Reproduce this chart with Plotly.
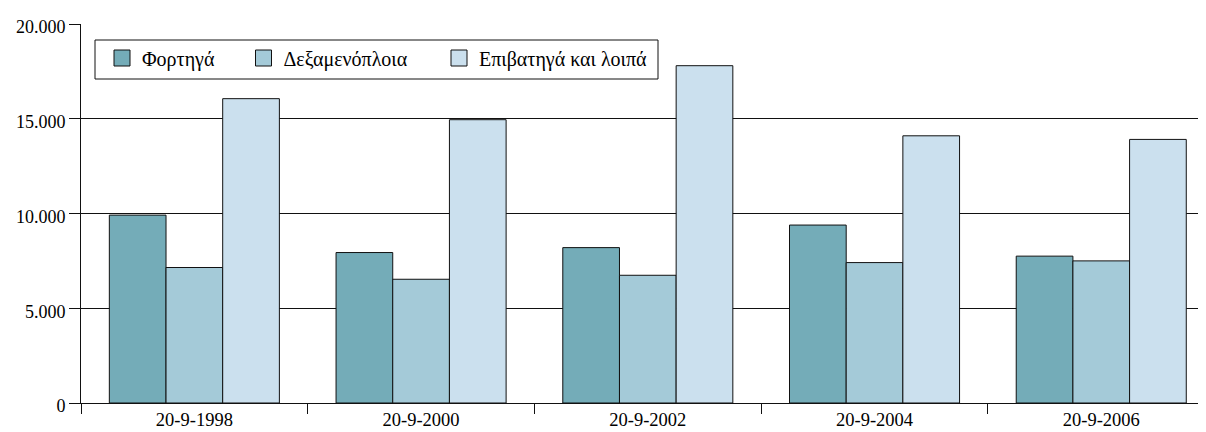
import plotly.graph_objects as go

categories = ["20-9-1998", "20-9-2000", "20-9-2002", "20-9-2004", "20-9-2006"]
series_names = ["Φορτηγά", "Δεξαμενόπλοια", "Επιβατηγά και λοιπά"]
fortiga = [9915, 7940, 8200, 9390, 7750]
dexamenoploia = [7150, 6530, 6740, 7410, 7500]
epivatiga = [16060, 14950, 17800, 14100, 13910]
y_ticks = [0, 5000, 10000, 15000, 20000]

colors = ["#74ACB8", "#A4CAD8", "#CBE0EE"]
values = [fortiga, dexamenoploia, epivatiga]

FONT = "Liberation Serif"

# figure is placed at (8, 8) in the page by the default body margin
W, H = 1198, 424
ML, MR, MT, MB = 73, 0, 16, 29
PW, PH = W - ML - MR, H - MT - MB


def px(xp):
    return (xp - ML) / PW


def py(yp):
    return (H - MB - yp) / PH


fig = go.Figure()
for name, vals, col in zip(series_names, values, colors):
    fig.add_trace(go.Bar(
        x=categories, y=vals, name=name, showlegend=False,
        marker=dict(color=col, line=dict(color="#111111", width=1)),
    ))

legend_ids = ["legend", "legend2", "legend3"]
swatch_centers = [114, 255.5, 451]
for name, col, lid in zip(series_names, colors, legend_ids):
    fig.add_trace(go.Scatter(
        x=[None], y=[None], name=name, mode="markers", legend=lid,
        marker=dict(symbol="square", size=20, color=col,
                    line=dict(color="#111111", width=1)),
    ))

legend_common = dict(
    orientation="h", xanchor="left", yanchor="middle",
    borderwidth=0, bgcolor="rgba(0,0,0,0)",
    font=dict(family=FONT, size=20, color="black"),
    itemsizing="trace",
)
layout_legends = {}
for lid, cx in zip(legend_ids, swatch_centers):
    layout_legends[lid] = dict(legend_common, x=px(cx - 20), y=py(50))

fig.update_layout(
    width=W, height=H,
    margin=dict(l=ML, r=MR, t=MT, b=MB, autoexpand=False),
    paper_bgcolor="white", plot_bgcolor="white",
    font=dict(family=FONT, size=18, color="black"),
    separators=",.",
    barmode="group", bargap=0.25, bargroupgap=0,
    showlegend=True,
    xaxis=dict(
        type="category", range=[-0.5, 4.462],
        showline=True, linecolor="#111111", linewidth=1,
        ticks="outside", tickson="boundaries", ticklen=10, tickcolor="#111111",
        showgrid=False, zeroline=False, automargin=False,
        tickfont=dict(family=FONT, size=18.5, color="black"),
    ),
    yaxis=dict(
        range=[0, 20000], tickvals=y_ticks, tickformat=",d",
        showline=True, linecolor="#111111", linewidth=1,
        ticks="outside", ticklen=11, tickcolor="#111111",
        showgrid=True, gridcolor="#111111", gridwidth=1,
        zeroline=False, automargin=False,
        ticklabelshift=3,
        tickfont=dict(family=FONT, size=18, color="black"),
    ),
    shapes=[dict(
        type="rect", xref="paper", yref="paper",
        x0=px(87), x1=px(650), y0=py(71), y1=py(32),
        line=dict(color="#111111", width=1), fillcolor="white", layer="above",
    )],
    **layout_legends,
)

fig.write_html("out.html")
